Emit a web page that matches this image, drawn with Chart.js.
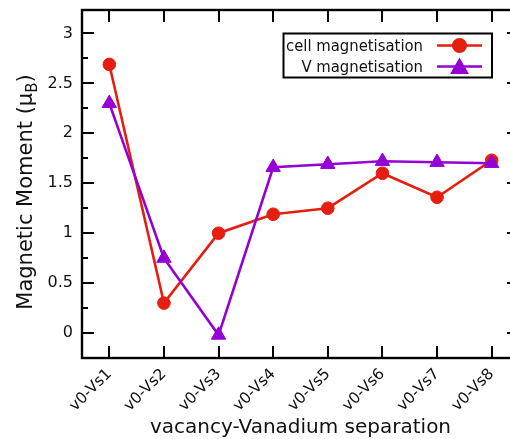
<!DOCTYPE html>
<html>
<head>
<meta charset="utf-8">
<script src="https://cdn.jsdelivr.net/npm/chart.js@4/dist/chart.umd.min.js"></script>
<style>
  html, body { margin: 0; padding: 0; background: #fff; overflow: hidden; }
  #wrap { width: 530px; height: 439px; }
</style>
</head>
<body>
<div id="wrap"><canvas id="c" width="530" height="439"></canvas></div>
<script>
// ---- data ----
const categories = ['v0-Vs1', 'v0-Vs2', 'v0-Vs3', 'v0-Vs4', 'v0-Vs5', 'v0-Vs6', 'v0-Vs7', 'v0-Vs8'];
const cellMagnetisation = [2.69, 0.30, 1.00, 1.19, 1.25, 1.60, 1.36, 1.73];
const vMagnetisation = [2.30, 0.75, -0.02, 1.66, 1.69, 1.72, 1.71, 1.70];
const yTickValues = [0, 0.5, 1, 1.5, 2, 2.5, 3];
const yMinorValues = [-0.25, 0, 0.25, 0.5, 0.75, 1, 1.25, 1.5, 1.75, 2, 2.25, 2.5, 2.75, 3];
const seriesLabels = ['cell magnetisation', 'V magnetisation'];
const xTitle = 'vacancy-Vanadium separation';
const yTitleMain = 'Magnetic Moment (\u03bc';
const yTitleSub = 'B';
const yTitleEnd = ')';

const RED = '#e51e10';
const PURPLE = '#9400d3';
const FONT = '"DejaVu Sans", "Noto Sans", sans-serif';

const framePlugin = {
  id: 'frame',
  afterDatasetsDraw(chart) {
    const ctx = chart.ctx;
    const a = chart.chartArea;
    const xs = chart.scales.x, ys = chart.scales.y;
    ctx.save();
    ctx.strokeStyle = '#000';
    ctx.lineWidth = 2;
    ctx.lineCap = 'butt';
    ctx.beginPath();
    for (let i = 0; i < categories.length; i++) {
      const px = Math.round(xs.getPixelForValue(i));
      ctx.moveTo(px, a.bottom); ctx.lineTo(px, a.bottom - 12);
      ctx.moveTo(px, a.top); ctx.lineTo(px, a.top + 12);
    }
    yMinorValues.forEach(v => {
      const py = Math.round(ys.getPixelForValue(v));
      const major = Math.abs(v * 2 - Math.round(v * 2)) < 1e-6;
      const len = major ? 12 : 6;
      ctx.moveTo(a.left, py); ctx.lineTo(a.left + len, py);
      ctx.moveTo(a.right, py); ctx.lineTo(a.right - len, py);
    });
    ctx.stroke();
    ctx.lineWidth = 2.4;
    ctx.strokeRect(a.left, a.top, a.right - a.left, a.bottom - a.top);
    ctx.restore();
  },
  afterDraw(chart) {
    const ctx = chart.ctx;
    const a = chart.chartArea;
    ctx.save();
    ctx.fillStyle = '#111';
    ctx.font = '20px ' + FONT;
    ctx.textAlign = 'center';
    ctx.textBaseline = 'alphabetic';
    ctx.fillText(xTitle, (a.left + a.right) / 2, 433);
    ctx.translate(32, 192);
    ctx.rotate(-Math.PI / 2);
    const mainFont = '21px ' + FONT, subFont = '15px ' + FONT;
    ctx.font = mainFont; const w1 = ctx.measureText(yTitleMain).width;
    const w3 = ctx.measureText(yTitleEnd).width;
    ctx.font = subFont; const w2 = ctx.measureText(yTitleSub).width;
    const total = w1 + w2 + w3;
    let x0 = -total / 2;
    ctx.textAlign = 'left';
    ctx.font = mainFont; ctx.fillText(yTitleMain, x0, 0);
    ctx.font = subFont; ctx.fillText(yTitleSub, x0 + w1, 5);
    ctx.font = mainFont; ctx.fillText(yTitleEnd, x0 + w1 + w2, 0);
    ctx.restore();

    ctx.save();
    const bx = 283.5, by = 33.5, bw = 208.5, bh = 44;
    ctx.strokeStyle = '#000';
    ctx.lineWidth = 2;
    ctx.strokeRect(bx, by, bw, bh);
    const rows = [45.5, 66.5];
    chart.data.datasets.forEach((ds, i) => {
      const y = rows[i];
      ctx.fillStyle = '#111';
      ctx.font = '16.5px "DejaVu Sans Condensed", "Liberation Sans Narrow", ' + FONT;
      ctx.textAlign = 'right';
      ctx.textBaseline = 'middle';
      ctx.fillText(ds.label, 423, y + 1);
      ctx.strokeStyle = ds.borderColor;
      ctx.lineWidth = ds.borderWidth;
      ctx.beginPath(); ctx.moveTo(437, y); ctx.lineTo(482, y); ctx.stroke();
      ctx.fillStyle = ds.pointBackgroundColor;
      ctx.strokeStyle = ds.pointBorderColor;
      Chart.helpers.drawPoint(ctx, { pointStyle: ds.pointStyle, radius: ds.pointRadius, borderWidth: 1, rotation: 0 }, 459.5, y + (ds.pointStyle === 'triangle' ? 2 : 0));
    });
    ctx.restore();
  }
};

new Chart(document.getElementById('c'), {
  type: 'line',
  data: {
    labels: categories,
    datasets: [
      {
        label: seriesLabels[0],
        data: cellMagnetisation,
        borderColor: RED,
        backgroundColor: RED,
        pointBackgroundColor: RED,
        pointBorderColor: RED,
        borderWidth: 2.6,
        pointStyle: 'circle',
        pointRadius: 6.3,
        pointBorderWidth: 1,
        tension: 0,
        order: 1
      },
      {
        label: seriesLabels[1],
        data: vMagnetisation,
        borderColor: PURPLE,
        backgroundColor: PURPLE,
        pointBackgroundColor: PURPLE,
        pointBorderColor: PURPLE,
        borderWidth: 2.6,
        pointStyle: 'triangle',
        pointRadius: 8.3,
        pointBorderWidth: 1,
        tension: 0,
        order: 0
      }
    ]
  },
  options: {
    responsive: false,
    animation: false,
    devicePixelRatio: 1,
    layout: { padding: { top: 10, left: 0, right: 11, bottom: 0 } },
    plugins: { legend: { display: false }, tooltip: { enabled: false } },
    scales: {
      x: {
        type: 'category',
        offset: true,
        grid: { display: false, drawTicks: false },
        border: { display: false },
        ticks: {
          color: '#111',
          font: { family: FONT, size: 15.5 },
          maxRotation: 45, minRotation: 45,
          autoSkip: false,
          padding: 7
        },
        afterFit(s) { s.height = 81; s.paddingLeft = 0; s.paddingRight = 0; }
      },
      y: {
        type: 'linear',
        min: -0.25,
        max: 3.235,
        grid: { display: false, drawTicks: false },
        border: { display: false },
        ticks: {
          color: '#111',
          font: { family: FONT, size: 16 },
          padding: 9,
          callback: v => String(v)
        },
        afterBuildTicks(s) { s.ticks = yTickValues.map(v => ({ value: v })); },
        afterFit(s) { s.width = 82; s.paddingTop = 0; s.paddingBottom = 0; }
      }
    }
  },
  plugins: [framePlugin]
});
</script>
</body>
</html>
